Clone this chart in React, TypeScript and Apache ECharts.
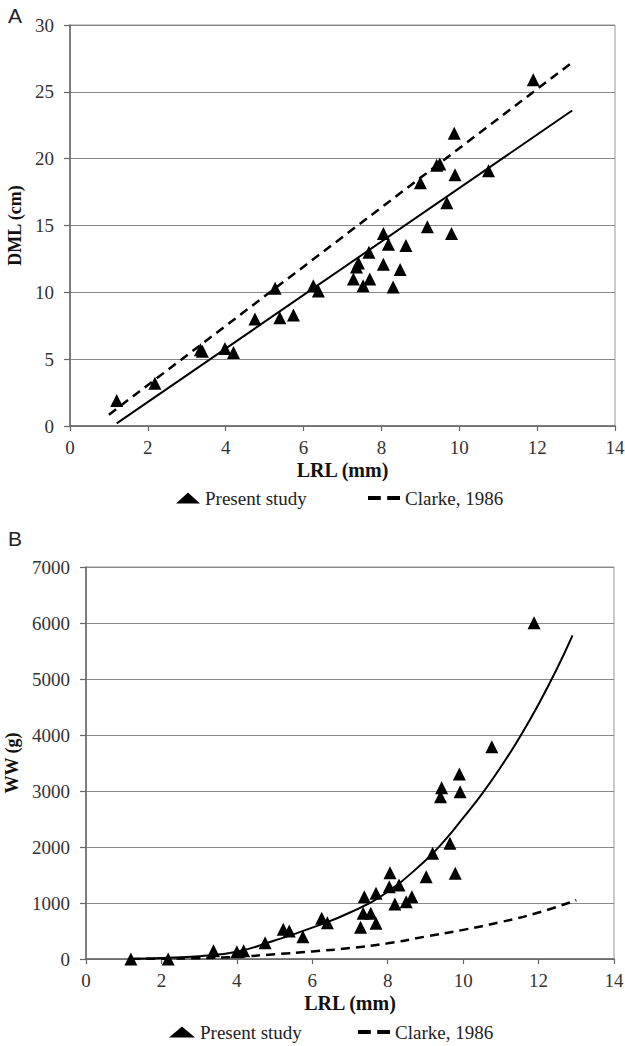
import React, { useEffect, useRef } from "react";
import * as echarts from "echarts";

// Panel A: LRL (mm) vs DML (cm)
const aLRL = [1.2, 2.18, 3.35, 3.4, 3.98, 4.2, 4.75, 5.27, 5.39, 5.74, 6.25, 6.38, 7.28, 7.36, 7.41, 7.53, 7.7, 7.68, 8.05, 8.05, 8.18, 8.3, 8.48, 8.63, 9.0, 9.18, 9.42, 9.5, 9.68, 9.8, 9.87, 9.89, 10.75, 11.9];
const aDML = [1.9, 3.2, 5.7, 5.6, 5.8, 5.5, 8.0, 10.3, 8.1, 8.3, 10.5, 10.1, 11.0, 11.9, 12.2, 10.5, 11.0, 13.0, 12.1, 14.4, 13.6, 10.4, 11.7, 13.5, 18.2, 14.9, 19.5, 19.6, 16.7, 14.4, 21.9, 18.8, 19.1, 25.9];
const aFitX = [1.2, 12.9];
const aFitY = [0.2, 23.6];
const aClarkeX = [1.0, 12.9];
const aClarkeY = [0.85, 27.2];

// Panel B: LRL (mm) vs WW (g)
const bLRL = [1.19, 2.18, 3.38, 4.0, 4.18, 4.75, 5.23, 5.39, 5.75, 6.25, 6.4, 7.28, 7.35, 7.38, 7.55, 7.69, 7.69, 8.06, 8.04, 8.19, 8.3, 8.49, 8.64, 9.02, 9.19, 9.43, 9.4, 9.65, 9.79, 9.9, 9.92, 10.76, 11.88];
const bWW = [0, 0, 148, 131, 148, 291, 530, 500, 398, 727, 648, 566, 816, 1113, 816, 637, 1173, 1541, 1291, 982, 1321, 1023, 1113, 1470, 1887, 3060, 2899, 2066, 1530, 3304, 2988, 3791, 6005];
const bFitX = [1.2, 2, 3, 4, 5, 6, 7, 8, 9, 9.5, 10, 10.5, 11, 11.5, 12, 12.5, 12.9];
const bFitY = [5, 20, 50, 130, 330, 560, 830, 1200, 1760, 2110, 2520, 2950, 3430, 3960, 4550, 5200, 5780];
const bClarkeX = [1.2, 2, 3, 4, 5, 6, 7, 8, 9, 10, 11, 12, 13];
const bClarkeY = [1, 5, 15, 38, 85, 135, 195, 280, 400, 520, 660, 830, 1050];

const SERIF = "Liberation Serif";
const SANS = "Liberation Sans";
const DASH_ICON = "path://M0,0h10v3h-10z M15,0h10v3h-10z";

const zip = (xs: number[], ys: number[]) => xs.map((x, i) => [x, ys[i]]);

const tickLabel = {
  show: true,
  color: "#333",
  fontSize: 19,
  fontFamily: SERIF,
  formatter: (v: number) => String(v),
};

function makeXAxis(gi: number) {
  return {
    type: "value",
    gridIndex: gi,
    min: 0,
    max: 14,
    interval: 2,
    splitLine: { show: false },
    axisLine: { show: true, onZero: false, lineStyle: { color: "#666", width: 1.5 } },
    axisTick: { show: true, inside: false, length: 5, lineStyle: { color: "#666", width: 1.2 } },
    axisLabel: { ...tickLabel, margin: 12 },
    name: "LRL (mm)",
    nameLocation: "middle",
    nameGap: 34,
    nameTextStyle: { color: "#111", fontSize: 20, fontWeight: "bold", fontFamily: SERIF },
  };
}

function makeYAxis(gi: number, max: number, interval: number, name: string, nameGap: number) {
  return {
    type: "value",
    gridIndex: gi,
    min: 0,
    max,
    interval,
    splitLine: { show: true, lineStyle: { color: "#888", width: 1.2 } },
    axisLine: { show: true, onZero: false, lineStyle: { color: "#666", width: 1.5 } },
    axisTick: { show: true, inside: false, length: 6, lineStyle: { color: "#666", width: 1.2 } },
    axisLabel: { ...tickLabel, margin: 16 },
    name,
    nameLocation: "middle",
    nameGap,
    nameTextStyle: { color: "#111", fontSize: 18, fontWeight: "bold", fontFamily: SERIF },
  };
}

export default function App() {
  const ref = useRef<HTMLDivElement>(null);
  useEffect(() => {
    if (!ref.current) return;
    const chart = echarts.init(ref.current, null, { renderer: "svg" });
    const legendText = { color: "#222", fontSize: 19, fontFamily: SERIF, lineHeight: 20 };
    const legendBase = { padding: 0, itemHeight: 11, textStyle: legendText, selectedMode: false };
    chart.setOption({
      animation: false,
      backgroundColor: "#fff",
      textStyle: { fontFamily: SERIF, fontSize: 19, color: "#333" },
      grid: [
        { left: 70, right: 10, top: 25, height: 401, show: true, borderColor: "#999", borderWidth: 1, containLabel: false, outerBoundsMode: "none" },
        { left: 86, right: 11, top: 567, height: 392, show: true, borderColor: "#999", borderWidth: 1, containLabel: false, outerBoundsMode: "none" },
      ],
      xAxis: [makeXAxis(0), makeXAxis(1)],
      yAxis: [makeYAxis(0, 30, 5, "DML (cm)", 43), makeYAxis(1, 7000, 1000, "WW (g)", 59)],
      legend: [
        { ...legendBase, left: 176, top: 488, itemWidth: 24, data: [{ name: "Present study", icon: "triangle" }] },
        { ...legendBase, left: 368, top: 488, itemWidth: 32, data: [{ name: "Clarke, 1986", icon: DASH_ICON }] },
        { ...legendBase, left: 169, top: 1022, itemWidth: 26, data: [{ name: "Present study", icon: "triangle" }] },
        { ...legendBase, left: 358, top: 1022, itemWidth: 32, data: [{ name: "Clarke, 1986", icon: DASH_ICON }] },
      ],
      graphic: [
        { type: "text", left: 8, top: 5, style: { text: "A", fontSize: 21, fontFamily: SANS, fill: "#222" } },
        { type: "text", left: 8, top: 528, style: { text: "B", fontSize: 21, fontFamily: SANS, fill: "#222" } },
      ],
      series: [
        {
          name: "Clarke, 1986",
          type: "line",
          xAxisIndex: 0,
          yAxisIndex: 0,
          data: zip(aClarkeX, aClarkeY),
          symbol: "none",
          lineStyle: { color: "#000", width: 2.5, type: [9, 6] },
          itemStyle: { color: "#000" },
          z: 3,
        },
        {
          name: "fitA",
          type: "line",
          xAxisIndex: 0,
          yAxisIndex: 0,
          data: zip(aFitX, aFitY),
          symbol: "none",
          lineStyle: { color: "#000", width: 2 },
          z: 3,
        },
        {
          name: "Present study",
          type: "scatter",
          xAxisIndex: 0,
          yAxisIndex: 0,
          data: zip(aLRL, aDML),
          symbol: "triangle",
          symbolSize: 13,
          itemStyle: { color: "#000", opacity: 1 },
          z: 4,
        },
        {
          name: "Clarke, 1986",
          type: "line",
          xAxisIndex: 1,
          yAxisIndex: 1,
          data: zip(bClarkeX, bClarkeY),
          symbol: "none",
          smooth: true,
          lineStyle: { color: "#000", width: 2.5, type: [9, 6] },
          itemStyle: { color: "#000" },
          z: 3,
        },
        {
          name: "fitB",
          type: "line",
          xAxisIndex: 1,
          yAxisIndex: 1,
          data: zip(bFitX, bFitY),
          symbol: "none",
          smooth: true,
          lineStyle: { color: "#000", width: 2 },
          z: 3,
        },
        {
          name: "Present study",
          type: "scatter",
          xAxisIndex: 1,
          yAxisIndex: 1,
          data: zip(bLRL, bWW),
          symbol: "triangle",
          symbolSize: 13,
          itemStyle: { color: "#000", opacity: 1 },
          z: 4,
        },
      ],
    });
    return () => chart.dispose();
  }, []);
  return (
    <div
      ref={ref}
      style={{ position: "fixed", left: 0, top: 0, width: 625, height: 1046, background: "#fff" }}
    />
  );
}
